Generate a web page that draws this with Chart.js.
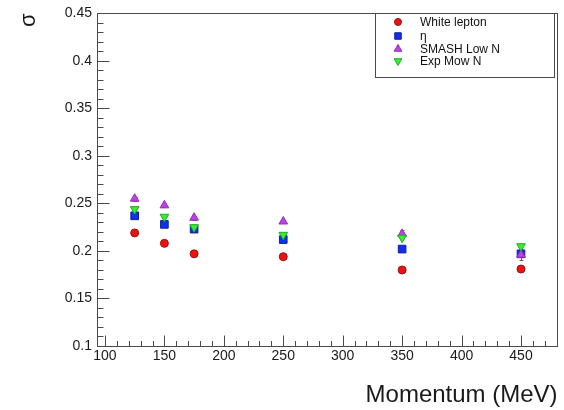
<!DOCTYPE html>
<html><head><meta charset="utf-8">
<script src="https://cdn.jsdelivr.net/npm/chart.js@4/dist/chart.umd.min.js"></script>
<style>html,body{margin:0;padding:0;background:#fff}#wrap{width:564px;height:410px}</style>
</head><body><div id="wrap"><canvas id="c" width="564" height="410"></canvas></div>
<script>
const momentum = [125, 150, 175, 250, 350, 450];
const whiteLepton = [0.219, 0.208, 0.197, 0.194, 0.180, 0.181];
const eta = [0.237, 0.228, 0.223, 0.212, 0.202, 0.197];
const smashLowN = [0.255, 0.248, 0.235, 0.231, 0.218, 0.196];
const expMowN = [0.244, 0.236, 0.225, 0.217, 0.214, 0.205];
const smashErr = [0.002, 0.002, 0.002, 0.002, 0.004, 0.006];
const seriesNames = ['White lepton', 'η', 'SMASH Low N', 'Exp Mow N'];
const xTicks = [100, 150, 200, 250, 300, 350, 400, 450];
const xLabels = ['100', '150', '200', '250', '300', '350', '400', '450'];
const yTicks = [0.1, 0.15, 0.2, 0.25, 0.3, 0.35, 0.4, 0.45];
const yLabels = ['0.1', '0.15', '0.2', '0.25', '0.3', '0.35', '0.4', '0.45'];
const xTitle = 'Momentum (MeV)';
const yTitle = 'σ';

const pts = ys => momentum.map((x, i) => ({x: x, y: ys[i]}));
const FONT = '"Liberation Sans", Arial, sans-serif';
const AXIS = '#4a4a4a';

const framePlugin = {
  id: 'frame',
  beforeDatasetsDraw(chart) {
    const ctx = chart.ctx, a = chart.chartArea;
    const xs = chart.scales.x, ys = chart.scales.y;
    ctx.save();
    ctx.strokeStyle = AXIS; ctx.lineWidth = 1;
    ctx.strokeRect(Math.round(a.left) + 0.5, Math.round(a.top) + 0.5,
      Math.round(a.right - a.left) - 1, Math.round(a.bottom - a.top));
    ctx.beginPath();
    // x ticks (inward), minor every 10, major every 50
    const bx = Math.round(a.bottom) + 0.5;
    for (let v = Math.ceil(xs.min / 10) * 10; v <= xs.max; v += 10) {
      const p = Math.round(xs.getPixelForValue(v)) + 0.5;
      const len = (v % 50 === 0) ? 11 : 5.5;
      ctx.moveTo(p, bx); ctx.lineTo(p, bx - len);
    }
    // y ticks (inward), minor every 0.01, major every 0.05
    const lx = Math.round(a.left) + 0.5;
    for (let k = Math.ceil(ys.min * 100 - 1e-6); k <= Math.round(ys.max * 100); k++) {
      const p = Math.round(ys.getPixelForValue(k / 100)) + 0.5;
      const len = (k % 5 === 0) ? 12 : 6;
      ctx.moveTo(lx, p); ctx.lineTo(lx + len, p);
    }
    ctx.stroke();
    // error bars
    chart.data.datasets.forEach(ds => {
      if (!ds.err) return;
      ctx.strokeStyle = ds.errColor || ds.borderColor;
      ctx.beginPath();
      ds.data.forEach((d, i) => {
        const px = Math.round(xs.getPixelForValue(d.x)) + 0.5;
        const y1 = ys.getPixelForValue(d.y + ds.err[i]);
        const y2 = ys.getPixelForValue(d.y - ds.err[i]);
        ctx.moveTo(px, y1); ctx.lineTo(px, y2);
        ctx.moveTo(px - 2, Math.round(y1) + 0.5); ctx.lineTo(px + 2, Math.round(y1) + 0.5);
        ctx.moveTo(px - 2, Math.round(y2) + 0.5); ctx.lineTo(px + 2, Math.round(y2) + 0.5);
      });
      ctx.stroke();
    });
    ctx.restore();
  }
};

const legendPlugin = {
  id: 'rootLegend',
  afterDatasetsDraw(chart) {
    const ctx = chart.ctx;
    const bx = 375, by = 13, bw = 179, bh = 64;
    ctx.save();
    ctx.fillStyle = '#fff';
    ctx.fillRect(bx, by, bw, bh);
    ctx.strokeStyle = AXIS; ctx.lineWidth = 1;
    ctx.strokeRect(bx + 0.5, by + 0.5, bw, bh);
    const rows = [22, 36, 49, 61];
    chart.data.datasets.forEach((ds, i) => {
      ctx.fillStyle = ds.backgroundColor;
      ctx.strokeStyle = ds.borderColor;
      ctx.lineWidth = 1;
      Chart.helpers.drawPoint(ctx, {pointStyle: ds.pointStyle, rotation: ds.pointRotation || 0,
        radius: ds.legendRadius, borderWidth: 1}, 398, rows[i]);
      ctx.fillStyle = '#111';
      ctx.font = '12px ' + FONT;
      ctx.textBaseline = 'middle';
      ctx.textAlign = 'left';
      ctx.fillText(ds.label, 420, rows[i] + 0.5);
    });
    ctx.restore();
  }
};

new Chart(document.getElementById('c'), {
  type: 'scatter',
  data: {
    datasets: [
      {label: seriesNames[0], data: pts(whiteLepton), pointStyle: 'circle', pointRadius: 4,
       backgroundColor: '#ee1111', borderColor: '#991111', pointBorderWidth: 1, legendRadius: 3.5, order: 3},
      {label: seriesNames[1], data: pts(eta), pointStyle: 'rect', pointRadius: 5.4,
       backgroundColor: '#1030ee', borderColor: '#10209a', pointBorderWidth: 1, legendRadius: 4.6, order: 2},
      {label: seriesNames[2], data: pts(smashLowN), pointStyle: 'triangle', pointRadius: 5,
       backgroundColor: '#c040ea', borderColor: '#9030b0', pointBorderWidth: 1, legendRadius: 4.5, order: 1,
       err: smashErr, errColor: '#705080'},
      {label: seriesNames[3], data: pts(expMowN), pointStyle: 'triangle', pointRotation: 180, pointRadius: 5,
       backgroundColor: '#33ee33', borderColor: '#22aa22', pointBorderWidth: 1, legendRadius: 4.5, order: 0}
    ]
  },
  options: {
    responsive: false,
    animation: false,
    events: [],
    layout: {padding: {left: 0, top: 11, right: 6, bottom: 0}},
    plugins: {legend: {display: false}, tooltip: {enabled: false}},
    scales: {
      x: {
        type: 'linear', min: 93.3, max: 480.8,
        afterBuildTicks: s => { s.ticks = xTicks.map(v => ({value: v})); },
        afterFit: s => { s.height = 64; },
        grid: {display: false, drawTicks: false},
        border: {display: false},
        ticks: {padding: 2, maxRotation: 0, autoSkip: false, color: '#1a1a1a',
          font: {family: FONT, size: 14}, callback: (v, i) => xLabels[i]},
        title: {display: true, text: xTitle, align: 'end', color: '#1a1a1a',
          font: {family: FONT, size: 24}, padding: {top: 0, bottom: 0}}
      },
      y: {
        type: 'linear', min: 0.1, max: 0.45,
        afterBuildTicks: s => { s.ticks = yTicks.map(v => ({value: v})); },
        afterFit: s => { s.width = 97; },
        grid: {display: false, drawTicks: false},
        border: {display: false},
        ticks: {padding: 5, autoSkip: false, color: '#1a1a1a',
          font: {family: FONT, size: 14}, callback: (v, i) => yLabels[i]},
        title: {display: true, text: yTitle, align: 'end', color: '#1a1a1a',
          font: {family: FONT, size: 22}, padding: {top: 16, bottom: 0}}
      }
    }
  },
  plugins: [framePlugin, legendPlugin]
});
</script>
</body></html>
